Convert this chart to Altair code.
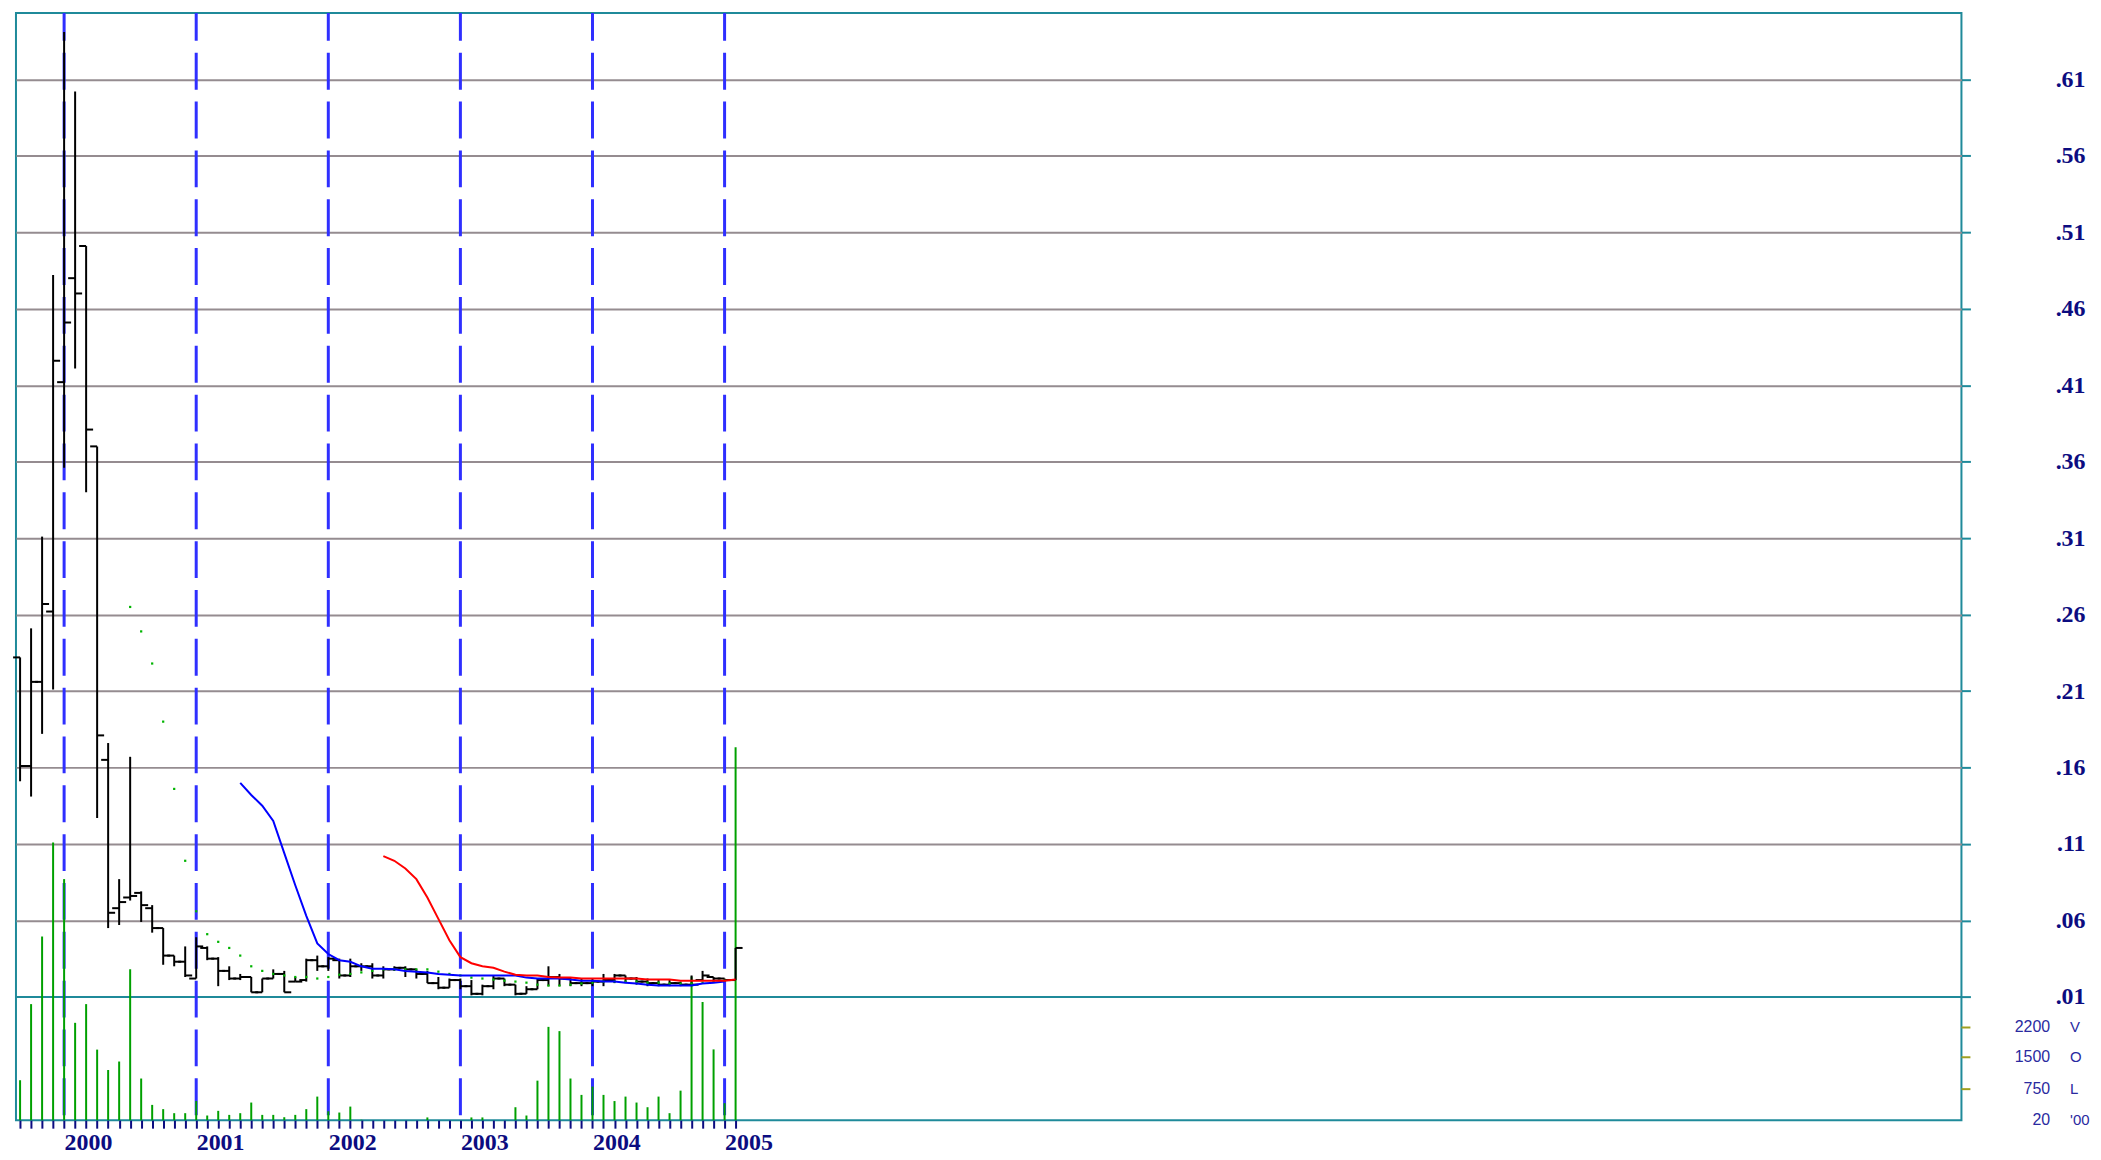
import altair as alt
import pandas as pd

# ---------------- data (months counted from Jan 2000; first bar Sep 1999) -------------
MONTHS = list(range(-4, 62))

OPEN = [0.232, 0.161, 0.216, 0.262, 0.412, 0.480, 0.501, 0.370, 0.165, 0.068,
        0.075, 0.078, 0.068, 0.055, 0.037, 0.033, 0.022, 0.042, 0.035, 0.027,
        0.022, 0.023, 0.013, 0.022, 0.025, 0.020, 0.021, 0.034, 0.030, 0.034,
        0.024, 0.030, 0.030, 0.024, 0.028, 0.029, 0.028, 0.025, 0.019, 0.016,
        0.021, 0.017, 0.012, 0.017, 0.022, 0.018, 0.012, 0.015, 0.021, 0.023,
        0.022, 0.019, 0.019, 0.020, 0.021, 0.024, 0.022, 0.020, 0.019, 0.018,
        0.019, 0.018, 0.021, 0.023, 0.022, 0.021]
HIGH = [0.232, 0.251, 0.311, 0.482, 0.641, 0.602, 0.501, 0.370, 0.176, 0.087,
        0.167, 0.079, 0.070, 0.055, 0.037, 0.043, 0.049, 0.043, 0.036, 0.030,
        0.025, 0.023, 0.022, 0.028, 0.027, 0.023, 0.035, 0.037, 0.036, 0.035,
        0.035, 0.032, 0.032, 0.030, 0.030, 0.030, 0.028, 0.027, 0.023, 0.022,
        0.022, 0.021, 0.018, 0.024, 0.022, 0.018, 0.017, 0.022, 0.030, 0.025,
        0.023, 0.022, 0.022, 0.025, 0.025, 0.024, 0.023, 0.022, 0.021, 0.021,
        0.020, 0.024, 0.027, 0.023, 0.022, 0.042]
LOW = [0.151, 0.141, 0.182, 0.211, 0.356, 0.421, 0.340, 0.127, 0.055, 0.057,
       0.073, 0.059, 0.052, 0.031, 0.030, 0.023, 0.022, 0.034, 0.017, 0.021,
       0.021, 0.013, 0.013, 0.022, 0.013, 0.020, 0.020, 0.027, 0.027, 0.022,
       0.023, 0.027, 0.022, 0.022, 0.027, 0.023, 0.022, 0.019, 0.015, 0.016,
       0.015, 0.011, 0.011, 0.015, 0.017, 0.011, 0.012, 0.015, 0.017, 0.017,
       0.017, 0.017, 0.017, 0.017, 0.019, 0.019, 0.018, 0.017, 0.017, 0.017,
       0.017, 0.017, 0.021, 0.020, 0.020, 0.021]
CLOSE = [0.161, 0.216, 0.267, 0.426, 0.451, 0.470, 0.381, 0.181, 0.065, 0.072,
         0.076, 0.070, 0.055, 0.037, 0.033, 0.024, 0.043, 0.035, 0.027, 0.022,
         0.023, 0.013, 0.022, 0.025, 0.013, 0.020, 0.034, 0.030, 0.035, 0.024,
         0.030, 0.030, 0.024, 0.028, 0.029, 0.028, 0.025, 0.019, 0.016, 0.021,
         0.017, 0.012, 0.017, 0.022, 0.018, 0.012, 0.015, 0.021, 0.023, 0.022,
         0.019, 0.019, 0.020, 0.021, 0.024, 0.022, 0.020, 0.019, 0.018, 0.019,
         0.018, 0.018, 0.024, 0.022, 0.021, 0.042]
VOLUME = [960, 2750, 4340, 6550, 5690, 2310, 2750, 1680, 1200, 1400,
          3570, 1000, 380, 280, 185, 185, 470, 130, 240, 145,
          185, 435, 145, 145, 90, 145, 280, 575, 230, 200,
          340, 30, 20, 20, 20, 20, 20, 85, 20, 20,
          20, 85, 85, 20, 20, 325, 130, 950, 2215, 2115,
          1000, 615, 810, 615, 470, 575, 435, 325, 575, 185,
          715, 3400, 2800, 1685, 420, 8790]

GREEN_START = 6
GREEN_MA = [0.265, 0.249, 0.228, 0.190, 0.146, 0.099, 0.066, 0.051, 0.046, 0.042,
            0.037, 0.030, 0.027, 0.025, 0.024, 0.023, 0.023, 0.022, 0.023, 0.0245,
            0.025, 0.026, 0.027, 0.028, 0.028, 0.028, 0.028, 0.028, 0.0265, 0.025,
            0.024, 0.0226, 0.022, 0.0213, 0.0206, 0.020, 0.0193, 0.018, 0.0174, 0.0174,
            0.018, 0.0187, 0.0193, 0.020, 0.020, 0.020, 0.020, 0.0193, 0.0193, 0.0187,
            0.0187, 0.0187, 0.0193, 0.020, 0.0206]
BLUE_START = 16
BLUE_MA = [0.150, 0.142, 0.135, 0.125, 0.104, 0.083, 0.063, 0.045, 0.038, 0.034,
           0.033, 0.030, 0.0284, 0.0284, 0.028, 0.027, 0.0265, 0.026, 0.025, 0.0245,
           0.024, 0.024, 0.024, 0.024, 0.024, 0.024, 0.0226, 0.022, 0.022, 0.022,
           0.0213, 0.0206, 0.0206, 0.020, 0.020, 0.0193, 0.0187, 0.018, 0.0174, 0.0174,
           0.0174, 0.0174, 0.0187, 0.0193, 0.020]
RED_START = 29
RED_MA = [0.102, 0.099, 0.094, 0.087, 0.075, 0.061, 0.047, 0.036, 0.032, 0.030,
          0.029, 0.0265, 0.0245, 0.024, 0.024, 0.023, 0.0226, 0.0226, 0.022, 0.022,
          0.022, 0.022, 0.022, 0.022, 0.0213, 0.0213, 0.0213, 0.0206, 0.0206, 0.0206,
          0.0206, 0.0206, 0.0213]

YEAR_MONTHS = [0, 12, 24, 36, 48, 60]
YEAR_LABELS = ["2000", "2001", "2002", "2003", "2004", "2005"]
PRICE_TICKS = [0.61, 0.56, 0.51, 0.46, 0.41, 0.36, 0.31, 0.26, 0.21, 0.16, 0.11, 0.06, 0.01]
VOL_TICKS = [2200, 1500, 750]
VOL_LABEL_VALUES = [2200, 1500, 750, 20]
VOL_LABELS = ["2200", "1500", "750", "20"]
VOL_LETTERS = ["V", "O", "L", "'00"]
VOL_BASE = 20

# ---------------- tables ----------------
bars = pd.DataFrame({"t": MONTHS, "open": OPEN, "high": HIGH, "low": LOW,
                     "close": CLOSE, "volume": VOLUME})
green_df = pd.DataFrame({"t": list(range(GREEN_START, GREEN_START + len(GREEN_MA))), "v": GREEN_MA})
blue_df = pd.DataFrame({"t": list(range(BLUE_START, BLUE_START + len(BLUE_MA))), "v": BLUE_MA})
red_df = pd.DataFrame({"t": list(range(RED_START, RED_START + len(RED_MA))), "v": RED_MA})
years_df = pd.DataFrame({"t": YEAR_MONTHS})
vticks_df = pd.DataFrame({"v": VOL_TICKS})
vlab_df = pd.DataFrame({"v": VOL_LABEL_VALUES, "label": VOL_LABELS, "letter": VOL_LETTERS})

# ---------------- scales / axes ----------------
W, H = 1952, 1111
xs = alt.Scale(domain=[-4.373, 172.36], nice=False, zero=False)
ps = alt.Scale(domain=[-0.07064, 0.65347], nice=False, zero=False)
vs = alt.Scale(domain=[20, 26062], nice=False, zero=False)

NAVY = "#0c0c80"
TEAL = "#1f8a9a"
GRID = "#958c90"

months_js = "[" + ",".join(str(m) for m in YEAR_MONTHS) + "]"
labels_js = "[" + ",".join("'" + s + "'" for s in YEAR_LABELS) + "]"
year_expr = (f"indexof({months_js}, datum.value) >= 0 ? "
             f"{labels_js}[indexof({months_js}, datum.value)] : ''")

x_axis = alt.Axis(values=MONTHS, labelExpr=year_expr, orient="bottom", title=None,
                  grid=False, domain=False, ticks=True, tickSize=8, tickWidth=2,
                  tickColor=NAVY, labelFont="Liberation Serif", labelFontSize=24,
                  labelFontWeight="bold", labelColor=NAVY, labelAlign="left",
                  labelBaseline="top", labelPadding=2, labelOverlap=False,
                  labelFlush=False)

p_axis = alt.Axis(values=PRICE_TICKS, orient="right", title=None, grid=True,
                  gridColor={"condition": {"test": "datum.value < 0.02", "value": TEAL},
                             "value": GRID},
                  gridWidth=2, domain=False, tickSize=9, tickWidth=2, tickColor=TEAL,
                  labelExpr="substring(format(datum.value, '.2f'), 1)",
                  labelFont="Liberation Serif", labelFontSize=24, labelFontWeight="bold",
                  labelColor=NAVY, labelAlign="right", labelBaseline="middle",
                  labelPadding=115, labelOverlap=False, labelFlush=False)

X = lambda axis=None: alt.X("t:Q", scale=xs, axis=axis)

dashed = alt.Chart(years_df).mark_rule(
    color="#2f2fff", strokeWidth=3, strokeDash=[37, 12], strokeDashOffset=9
).encode(x=X(x_axis))

vol = alt.Chart(bars).mark_rule(color="#00a000", strokeWidth=2).encode(
    x=X(), y=alt.Y("volume:Q", scale=vs, axis=None), y2=alt.Y2Datum(VOL_BASE))

hl = alt.Chart(bars).mark_rule(color="black", strokeWidth=2).encode(
    x=X(), y=alt.Y("low:Q", scale=ps, axis=p_axis), y2="high:Q")

op = alt.Chart(bars).mark_tick(orient="horizontal", color="black", size=7,
                               thickness=2, xOffset=-3.5, opacity=1).encode(
    x=X(), y=alt.Y("open:Q", scale=ps, axis=None))

cl = alt.Chart(bars).mark_tick(orient="horizontal", color="black", size=7,
                               thickness=2, xOffset=3.5, opacity=1).encode(
    x=X(), y=alt.Y("close:Q", scale=ps, axis=None))

dots = alt.Chart(green_df).mark_square(size=5, color="#00b400", opacity=1,
                                       filled=True).encode(
    x=X(), y=alt.Y("v:Q", scale=ps, axis=None))

blue = alt.Chart(blue_df).mark_line(color="#0000ff", strokeWidth=2).encode(
    x=X(), y=alt.Y("v:Q", scale=ps, axis=None))

red = alt.Chart(red_df).mark_line(color="#ff0000", strokeWidth=2).encode(
    x=X(), y=alt.Y("v:Q", scale=ps, axis=None))

vticks = alt.Chart(vticks_df).mark_rule(color="#a0a020", strokeWidth=2).encode(
    x=alt.value(W), x2=alt.value(W + 9), y=alt.Y("v:Q", scale=vs, axis=None))

vnum = alt.Chart(vlab_df).mark_text(align="right", baseline="middle",
                                    font="Liberation Sans", fontSize=16,
                                    color="#2a2aa0").encode(
    x=alt.value(W + 89), y=alt.Y("v:Q", scale=vs, axis=None), text="label:N")

vlet = alt.Chart(vlab_df).mark_text(align="left", baseline="middle",
                                    font="Liberation Sans", fontSize=15,
                                    color="#2a2aa0").encode(
    x=alt.value(W + 109), y=alt.Y("v:Q", scale=vs, axis=None), text="letter:N")

chart = alt.layer(dashed, vol, hl, op, cl, dots, blue, red, vticks, vnum, vlet).resolve_scale(
    x="independent", y="independent"
).properties(
    width=W, height=H,
    background="white",
    autosize=alt.AutoSizeParams(type="none"),
    padding={"left": 8, "top": 3, "right": 132, "bottom": 34},
).configure_view(stroke=TEAL, strokeWidth=2)

chart.save("out.html", embed_options={"renderer": "svg", "actions": False})
